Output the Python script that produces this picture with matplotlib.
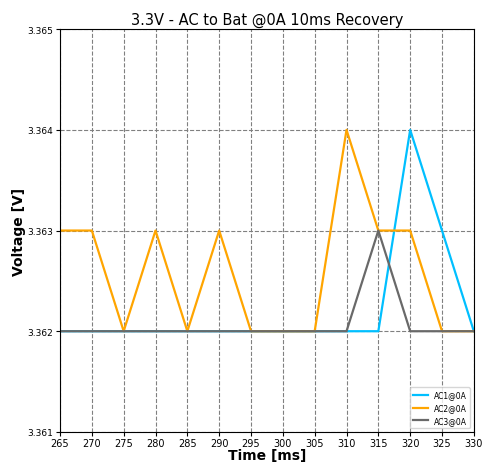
import matplotlib
matplotlib.use("Agg")
import matplotlib.pyplot as plt
from matplotlib.ticker import FormatStrFormatter

t = [265, 270, 275, 280, 285, 290, 295, 300, 305, 310, 315, 320, 325, 330]
ac1 = [3.362, 3.362, 3.362, 3.362, 3.362, 3.362, 3.362, 3.362, 3.362, 3.362, 3.362, 3.364, 3.363, 3.362]
ac2 = [3.363, 3.363, 3.362, 3.363, 3.362, 3.363, 3.362, 3.362, 3.362, 3.364, 3.363, 3.363, 3.362, 3.362]
ac3 = [3.362, 3.362, 3.362, 3.362, 3.362, 3.362, 3.362, 3.362, 3.362, 3.362, 3.363, 3.362, 3.362, 3.362]

fig, ax = plt.subplots(figsize=(4.84, 4.64), dpi=100)
fig.subplots_adjust(left=0.124, right=0.979, top=0.935, bottom=0.067)

ax.plot(t, ac1, color="deepskyblue", lw=1.6, label="AC1@0A")
ax.plot(t, ac2, color="orange", lw=1.6, label="AC2@0A")
ax.plot(t, ac3, color="dimgray", lw=1.6, label="AC3@0A")

ax.set_xlim(265, 330)
ax.set_ylim(3.361, 3.365)
ax.set_xticks(range(265, 331, 5))
ax.set_yticks([3.361, 3.362, 3.363, 3.364, 3.365])
ax.yaxis.set_major_formatter(FormatStrFormatter("%.3f"))
ax.tick_params(axis="x", labelsize=7, length=3, pad=1.5)
ax.tick_params(axis="y", labelsize=6.5, length=3, pad=2)
ax.grid(True, linestyle="--", color="gray", lw=0.8)

ax.set_title("3.3V - AC to Bat @0A 10ms Recovery", fontsize=10.5, pad=4)
ax.set_xlabel("Time [ms]", fontsize=10, fontweight="bold", labelpad=0)
ax.set_ylabel("Voltage [V]", fontsize=10, fontweight="bold", labelpad=1)
ax.legend(loc="lower right", fontsize=5.5)

fig.savefig("out.png", dpi=100)
